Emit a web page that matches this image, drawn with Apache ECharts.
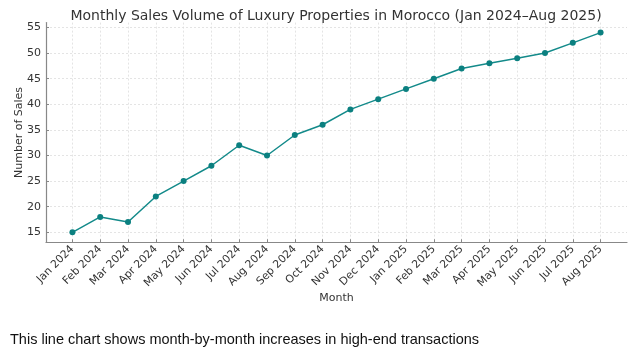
<!DOCTYPE html>
<html>
<head>
<meta charset="utf-8">
<script src="https://cdn.jsdelivr.net/npm/echarts@6/dist/echarts.min.js"></script>
<style>html,body{margin:0;padding:0;background:#fff;}#c{width:634px;height:355px;}</style>
</head>
<body>
<div id="c"></div>
<script>
const months = ["Jan 2024","Feb 2024","Mar 2024","Apr 2024","May 2024","Jun 2024","Jul 2024","Aug 2024","Sep 2024","Oct 2024","Nov 2024","Dec 2024","Jan 2025","Feb 2025","Mar 2025","Apr 2025","May 2025","Jun 2025","Jul 2025","Aug 2025"];
const sales = [15,18,17,22,25,28,32,30,34,36,39,41,43,45,47,48,49,50,52,54];
const yTicks = [15,20,25,30,35,40,45,50,55];
const xTicks = months.map((m,i)=>i);

const chart = echarts.init(document.getElementById('c'), null, {renderer:'canvas'});
const font = 'DejaVu Sans';
chart.setOption({
  animation:false,
  title:{text:'Monthly Sales Volume of Luxury Properties in Morocco (Jan 2024\u2013Aug 2025)',left:331,textAlign:'center',top:4,
    textStyle:{fontFamily:font,fontSize:14,fontWeight:'normal',color:'#333'}},
  grid:{left:46,right:7,top:22.6,bottom:112.7,containLabel:false,outerBoundsMode:'none'},
  xAxis:{type:'value',min:-0.95,max:19.95,name:'Month',nameLocation:'middle',nameGap:50,nameMoveOverlap:false,
    nameTextStyle:{fontFamily:font,fontSize:11,color:'#333'},
    axisLine:{show:true,onZero:false,lineStyle:{color:'#888',width:1.2}},
    axisTick:{show:true,inside:true,length:3,customValues:xTicks,lineStyle:{color:'#888'}},
    axisLabel:{customValues:xTicks,rotate:45,margin:5,fontFamily:font,fontSize:10.8,color:'#333',formatter:v=>months[Math.round(v)]},
    splitLine:{show:true,lineStyle:{color:'#ddd',type:[2,2],width:0.8}}},
  yAxis:{type:'value',min:13.05,max:55.95,name:'Number of Sales',nameLocation:'middle',nameGap:21,nameMoveOverlap:false,
    nameTextStyle:{fontFamily:font,fontSize:11,color:'#333'},
    axisLine:{show:true,onZero:false,lineStyle:{color:'#888',width:1.2}},
    axisTick:{show:true,inside:true,length:3,customValues:yTicks,lineStyle:{color:'#888'}},
    axisLabel:{customValues:yTicks,margin:5,fontFamily:font,fontSize:11,color:'#333'},
    splitLine:{show:true,lineStyle:{color:'#ddd',type:[2,2],width:0.8}}},
  series:[{type:'line',data:sales.map((v,i)=>[i,v]),symbol:'circle',symbolSize:6,
    lineStyle:{color:'#138a8a',width:1.5},itemStyle:{color:'#0b8080'}}],
  graphic:[{type:'text',left:10,top:332,style:{text:'This line chart shows month-by-month increases in high-end transactions',
    fontFamily:'Liberation Sans',fontSize:14.5,fill:'#111'}}]
});
</script>
</body>
</html>
